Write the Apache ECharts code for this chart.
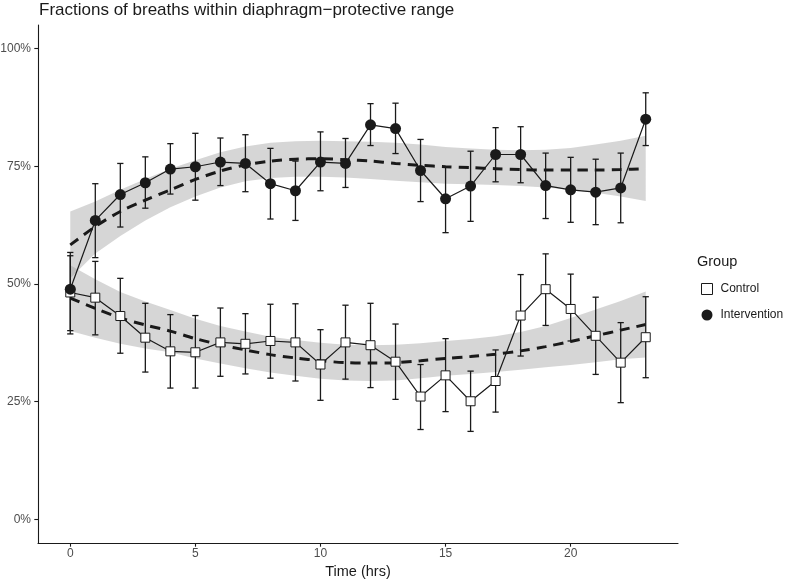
<!DOCTYPE html>
<html>
<head>
<meta charset="utf-8">
<script src="https://cdn.jsdelivr.net/npm/echarts@6/dist/echarts.min.js"></script>
<style>html,body{margin:0;padding:0;background:#fff;}#c{width:800px;height:580px;}</style>
</head>
<body>
<div id="c"></div>
<script>
// ---- data (percent) ----
const hours = [0,1,2,3,4,5,6,7,8,9,10,11,12,13,14,15,16,17,18,19,20,21,22,23];
const intervention     = [48.9,63.5,69.0,71.5,74.4,74.9,75.9,75.6,71.3,69.8,75.9,75.6,83.8,83.0,74.1,68.1,70.8,77.5,77.5,70.9,70.0,69.5,70.4,85.0];
const interventionLow  = [40.1,55.6,62.1,66.1,69.1,67.8,70.9,69.6,63.8,63.5,69.8,70.5,79.4,77.7,67.5,60.9,63.3,71.7,71.5,63.9,63.1,62.6,63.0,79.4];
const interventionHigh = [56.7,71.3,75.6,77.0,79.8,82.0,81.0,81.7,78.8,76.1,82.3,80.9,88.3,88.4,80.7,74.9,78.2,83.2,83.4,77.8,76.9,76.5,77.8,90.6];
const control     = [48.2,47.1,43.2,38.6,35.7,35.5,37.6,37.3,37.9,37.6,32.9,37.6,37.0,33.5,26.1,30.6,25.1,29.4,43.3,48.9,44.7,39.0,33.3,38.7];
const controlLow  = [39.4,39.2,35.3,31.3,27.9,27.9,30.4,30.9,30.0,29.4,25.3,29.8,28.0,25.5,19.1,22.9,18.7,22.8,34.7,41.2,37.9,30.8,24.8,30.1];
const controlHigh = [56.0,54.8,51.2,45.9,43.5,43.3,44.9,43.7,45.7,45.8,40.3,45.5,45.9,41.5,32.9,38.4,31.5,36.0,52.0,56.4,52.1,47.2,41.8,47.3];
// loess smooth fits and confidence bands
const interventionFit   = [58.3,62.2,65.4,67.8,70.0,72.2,74.0,75.3,76.1,76.5,76.6,76.4,76.1,75.6,75.2,74.9,74.7,74.5,74.3,74.2,74.2,74.2,74.3,74.5];
const interventionUpper = [65.4,67.5,70.0,72.3,74.5,76.3,78.0,79.2,80.0,80.3,80.4,80.3,80.2,80.0,79.6,79.1,78.8,78.5,78.4,78.5,78.9,79.6,80.4,81.5];
const interventionLower = [51.2,56.5,60.2,63.5,66.3,68.6,70.5,71.8,72.5,72.8,72.8,72.6,72.3,71.9,71.6,71.3,71.2,71.0,70.8,70.5,70.0,69.4,68.6,67.6];
const controlFit   = [47.0,44.8,42.8,41.3,40.0,38.4,37.1,36.0,35.0,34.3,33.7,33.3,33.2,33.3,33.7,34.2,34.6,35.1,35.8,36.7,37.8,39.0,40.2,41.4];
const controlUpper = [54.0,51.0,48.3,46.3,44.5,42.6,41.1,39.9,38.8,38.1,37.5,37.1,37.0,37.1,37.4,37.9,38.3,38.9,39.8,41.1,42.8,44.6,46.4,48.4];
const controlLower = [40.0,38.6,37.3,36.3,35.5,34.2,33.1,32.1,31.2,30.5,29.9,29.5,29.4,29.5,30.0,30.5,30.9,31.3,31.8,32.3,32.8,33.4,34.0,34.4];
const xTicks = [0,5,10,15,20];
const yTicks = [0,25,50,75,100];

const FONT = 'Liberation Sans, Arial, sans-serif';
const INK = '#1a1a1a';

const pairs = (ys) => hours.map((h,i)=>[h, ys[i]]);
const bars = (lo, hi) => hours.map((h,i)=>[h, lo[i], hi[i]]);

// confidence band drawn as one polygon through the axis scales
function ribbon(lo, hi) {
  return {
    type:'custom', silent:true, z:1,
    data: bars(lo, hi),
    encode:{x:0, y:[1,2]},
    renderItem: function(params, api) {
      if (params.dataIndex !== 0) return null;
      const top = hours.map((h,i)=>api.coord([h, hi[i]]));
      const bot = hours.map((h,i)=>api.coord([h, lo[i]])).reverse();
      return {type:'polygon', shape:{points: top.concat(bot)},
        style:{fill:'rgba(153,153,153,0.4)', stroke:null}};
    }
  };
}
function errorBars(lo, hi) {
  return {
    type:'custom', silent:true, z:3,
    data: bars(lo, hi),
    encode:{x:0, y:[1,2]},
    renderItem: function(params, api) {
      const x = api.value(0);
      const pLo = api.coord([x, api.value(1)]);
      const pHi = api.coord([x, api.value(2)]);
      const hw = api.size([0.125, 0])[0];
      const st = {stroke: INK, lineWidth: 1.3};
      return {type:'group', children:[
        {type:'line', shape:{x1:pLo[0], y1:pLo[1], x2:pHi[0], y2:pHi[1]}, style:st},
        {type:'line', shape:{x1:pHi[0]-hw, y1:pHi[1], x2:pHi[0]+hw, y2:pHi[1]}, style:st},
        {type:'line', shape:{x1:pLo[0]-hw, y1:pLo[1], x2:pLo[0]+hw, y2:pLo[1]}, style:st}
      ]};
    }
  };
}
function fit(ys) {
  return {type:'line', data:pairs(ys), symbol:'none', silent:true, smooth:0.3, z:2,
    lineStyle:{color:INK, width:3, type:[10,7]}};
}

const chart = echarts.init(document.getElementById('c'), null, {renderer:'canvas'});
chart.setOption({
  animation:false,
  backgroundColor:'#ffffff',
  textStyle:{fontFamily:FONT},
  title:[
    {text:'Fractions of breaths within diaphragm\u2212protective range', left:34, top:-3,
     textStyle:{fontFamily:FONT, fontSize:17, fontWeight:'normal', color:INK}},
    {text:'Group', left:692, top:249,
     textStyle:{fontFamily:FONT, fontSize:14.5, fontWeight:'normal', color:INK}}
  ],
  legend:{
    orient:'vertical', left:696, top:278, itemWidth:11, itemHeight:11, itemGap:14,
    textStyle:{fontFamily:FONT, fontSize:12, color:INK, padding:[0,0,0,3]},
    data:[
      {name:'Control', icon:'rect', itemStyle:{color:'#ffffff', borderColor:INK, borderWidth:1}},
      {name:'Intervention', icon:'circle', itemStyle:{color:INK}}
    ]
  },
  grid:{left:38, right:122, top:25, bottom:37, containLabel:false, outerBoundsMode:'none'},
  xAxis:{
    type:'value', min:-1.29, max:24.29,
    name:'Time (hrs)', nameLocation:'middle', nameGap:17,
    nameTextStyle:{fontFamily:FONT, fontSize:14.5, color:INK},
    axisLine:{show:true, onZero:false, lineStyle:{color:INK, width:1.1}},
    axisTick:{show:true, length:3.7, lineStyle:{color:INK, width:1.1}, customValues:xTicks},
    axisLabel:{fontFamily:FONT, fontSize:12, color:'#4d4d4d', margin:5, customValues:xTicks},
    splitLine:{show:false}
  },
  yAxis:{
    type:'value', min:-5, max:105,
    axisLine:{show:true, onZero:false, lineStyle:{color:INK, width:1.1}},
    axisTick:{show:true, length:3.7, lineStyle:{color:INK, width:1.1}, customValues:yTicks},
    axisLabel:{fontFamily:FONT, fontSize:12, color:'#4d4d4d', margin:7, customValues:yTicks,
      formatter:'{value}%'},
    splitLine:{show:false}
  },
  series:[
    ribbon(interventionLower, interventionUpper),
    ribbon(controlLower, controlUpper),
    fit(interventionFit),
    fit(controlFit),
    errorBars(controlLow, controlHigh),
    errorBars(interventionLow, interventionHigh),
    {name:'Control', type:'line', data:pairs(control), symbol:'rect', symbolSize:9, z:4,
     lineStyle:{color:INK, width:1.2},
     itemStyle:{color:'#ffffff', borderColor:INK, borderWidth:1}},
    {name:'Intervention', type:'line', data:pairs(intervention), symbol:'circle', symbolSize:11, z:5,
     lineStyle:{color:INK, width:1.2},
     itemStyle:{color:INK}}
  ]
});
</script>
</body>
</html>
